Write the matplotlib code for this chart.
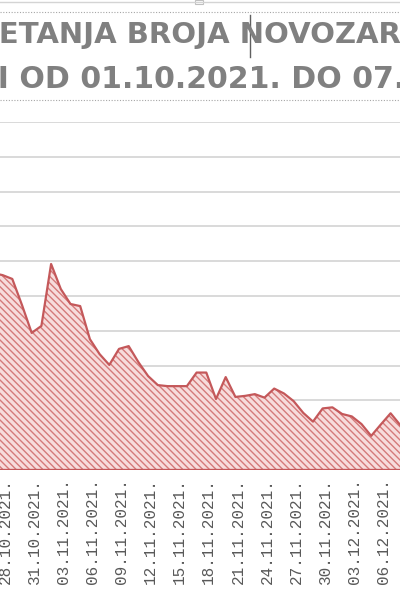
import matplotlib
matplotlib.use('Agg')
import matplotlib.pyplot as plt
from matplotlib.lines import Line2D
from matplotlib.patches import Rectangle
from matplotlib.transforms import ScaledTranslation
import numpy as np
import pandas as pd

# daily values, 27.10.2021 - 08.12.2021 (the visible part of the chart)
dates = pd.date_range('2021-10-27', '2021-12-08', freq='D')
new_cases = [5660, 5600, 5490, 4740, 3940, 4140, 5920, 5200, 4770, 4710,
             3760, 3330, 3020, 3480, 3560, 3100, 2700, 2440, 2410, 2410,
             2410, 2800, 2800, 2040, 2670, 2100, 2130, 2180, 2080, 2340,
             2200, 1980, 1640, 1390, 1770, 1800, 1610, 1540, 1320, 980,
             1310, 1630, 1290]

title_line1 = 'KRETANJA BROJA NOVOZARAŽENIH'
title_line2 = 'U SRBIJI OD 01.10.2021. DO 07.12.2021.'

tick_idx = list(range(1, len(dates), 3))
tick_labels = [dates[i].strftime('%d.%m.%Y.') for i in tick_idx]

W, H = 400, 600
fig = plt.figure(figsize=(4, 6), dpi=100)
fig.patch.set_facecolor('white')

# plot area: bottom axis at y=470px, top gridline at y=122px
ax = fig.add_axes([0, (H - 470) / H, 1, (470 - 122) / H])
x = np.arange(len(dates))

ax.fill_between(x, new_cases, 0, facecolor='#f7dcdc', edgecolor='#d57a7a',
                hatch='\\\\\\\\\\', linewidth=0, zorder=2)
ax.plot(x, new_cases, color='#c4585a', lw=1.6, zorder=3)
ax.axhline(0, color='#c4585a', lw=2.4, zorder=3)

ax.set_ylim(0, 10000)
ax.set_yticks(np.arange(0, 10001, 1000))
ax.set_xlim(0.732, 41.97)
ax.yaxis.grid(True, color='#d9d9d9', lw=1.4)
ax.set_axisbelow(True)
for s in ax.spines.values():
    s.set_visible(False)
ax.tick_params(axis='y', left=False, labelleft=False)
ax.set_xticks(tick_idx, tick_labels, rotation=90, fontsize=11.5,
              family='Liberation Mono', color='#595959')
ax.tick_params(axis='x', length=0, pad=6)
shift = ScaledTranslation(2.5 / 100, 0, fig.dpi_scale_trans)
for lbl in ax.get_xticklabels():
    lbl.set_transform(lbl.get_transform() + shift)

# title (chart is cropped on both sides)
fig.text(-46 / W, 1 - 43 / H, title_line1, fontsize=21, fontweight='bold',
         color='#808080', ha='left', va='baseline', family='DejaVu Sans')
fig.text(-127 / W, 1 - 88 / H, title_line2, fontsize=21.6, fontweight='bold',
         color='#808080', ha='left', va='baseline', family='DejaVu Sans')

# selection frame of the title box and text cursor
fig.add_artist(Line2D([0, 1], [1 - 2 / H] * 2, color='#d4d4d4', lw=1))
fig.add_artist(Rectangle((195 / W, 1 - 4 / H), 8 / W, 4 / H,
                         facecolor='white', edgecolor='#bfbfbf', lw=0.8))
for yy in (12, 100):
    fig.add_artist(Line2D([0, 1], [1 - yy / H] * 2, color='#a6a6a6',
                          lw=0.8, linestyle=(0, (1, 1.5))))
fig.add_artist(Line2D([250 / W] * 2, [1 - 15 / H, 1 - 57 / H],
                      color='#606060', lw=1))

fig.savefig('out.png', dpi=100)
